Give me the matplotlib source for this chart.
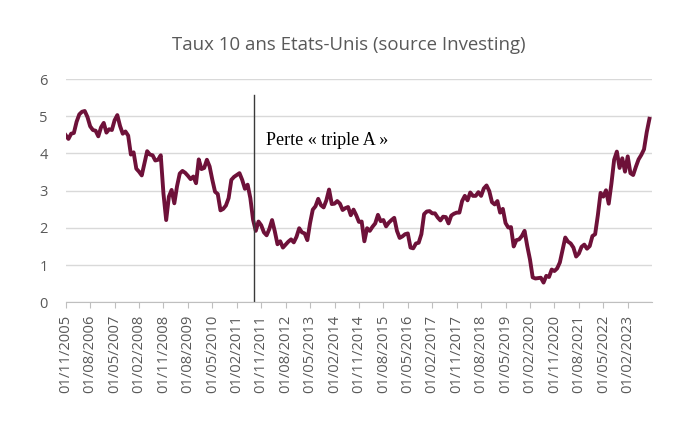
import numpy as np
import pandas as pd
import matplotlib
matplotlib.use('Agg')
import matplotlib.pyplot as plt

# monthly US 10 year yield (source Investing), one value per month from 11/2005
taux_2005 = [4.49, 4.39]
taux_2006 = [4.53, 4.55, 4.85, 5.05, 5.12, 5.14, 4.98, 4.73, 4.63, 4.61, 4.46, 4.70]
taux_2007 = [4.82, 4.56, 4.65, 4.63, 4.89, 5.03, 4.74, 4.53, 4.59, 4.48, 3.97, 4.03]
taux_2008 = [3.59, 3.51, 3.41, 3.73, 4.06, 3.97, 3.95, 3.81, 3.83, 3.95, 2.92, 2.21]
taux_2009 = [2.84, 3.02, 2.66, 3.12, 3.46, 3.53, 3.48, 3.40, 3.31, 3.38, 3.20, 3.84]
taux_2010 = [3.58, 3.61, 3.83, 3.65, 3.29, 2.97, 2.91, 2.47, 2.51, 2.60, 2.80, 3.29]
taux_2011 = [3.37, 3.42, 3.47, 3.29, 3.05, 3.16, 2.80, 2.22, 1.92, 2.17, 2.07, 1.88]
taux_2012 = [1.80, 1.97, 2.21, 1.91, 1.56, 1.64, 1.47, 1.55, 1.63, 1.69, 1.61, 1.76]
taux_2013 = [1.99, 1.88, 1.85, 1.67, 2.13, 2.49, 2.58, 2.78, 2.61, 2.55, 2.74, 3.03]
taux_2014 = [2.64, 2.65, 2.72, 2.65, 2.48, 2.53, 2.56, 2.34, 2.49, 2.34, 2.16, 2.17]
taux_2015 = [1.64, 1.99, 1.92, 2.03, 2.12, 2.35, 2.18, 2.21, 2.04, 2.14, 2.21, 2.27]
taux_2016 = [1.92, 1.73, 1.77, 1.83, 1.85, 1.47, 1.45, 1.58, 1.60, 1.83, 2.37, 2.44]
taux_2017 = [2.45, 2.39, 2.39, 2.28, 2.20, 2.30, 2.29, 2.12, 2.33, 2.38, 2.41, 2.41]
taux_2018 = [2.72, 2.86, 2.74, 2.95, 2.86, 2.86, 2.96, 2.86, 3.06, 3.14, 2.99, 2.69]
taux_2019 = [2.63, 2.72, 2.41, 2.51, 2.13, 2.01, 2.02, 1.50, 1.67, 1.69, 1.78, 1.92]
taux_2020 = [1.51, 1.15, 0.67, 0.64, 0.65, 0.66, 0.53, 0.71, 0.68, 0.88, 0.84, 0.91]
taux_2021 = [1.07, 1.40, 1.74, 1.63, 1.58, 1.47, 1.23, 1.31, 1.49, 1.55, 1.44, 1.51]
taux_2022 = [1.78, 1.83, 2.34, 2.94, 2.84, 3.01, 2.65, 3.19, 3.83, 4.05, 3.61, 3.87]
taux_2023 = [3.51, 3.92, 3.47, 3.42, 3.64, 3.84, 3.96, 4.11, 4.57, 4.93]

taux = (taux_2005 + taux_2006 + taux_2007 + taux_2008 + taux_2009 + taux_2010
        + taux_2011 + taux_2012 + taux_2013 + taux_2014 + taux_2015 + taux_2016
        + taux_2017 + taux_2018 + taux_2019 + taux_2020 + taux_2021 + taux_2022
        + taux_2023)
dates = pd.date_range('2005-11-01', periods=len(taux), freq='MS')

annotation = 'Perte « triple A »'
date_annotation = '2011-08-15'          # downgrade of the US rating
titre = 'Taux 10 ans Etats-Unis (source Investing)'

gris = '#595959'
plt.rcParams['font.family'] = ['Open Sans', 'DejaVu Sans']

fig = plt.figure(figsize=(6.94, 4.28), dpi=100)
ax = fig.add_axes([0.0947, 0.2937, 0.845, 0.5217])

# x axis is a month index from 11/2005, like an Excel date axis in months
mois = np.arange(len(taux))
ax.plot(mois, taux, color='#6E1139', linewidth=2.8, solid_joinstyle='round')

# vertical marker line for the loss of the AAA rating
d = pd.Timestamp(date_annotation)
pos = (d.year - 2005) * 12 + (d.month - 11) + (d.day - 1) / 30
ax.axvline(pos, ymin=0, ymax=0.928, color='#3a3a3a', linewidth=1)
ax.text(pos + 4.3, 4.35, annotation, family='Liberation Serif', fontsize=13,
        color='black', va='center', ha='left')

ax.set_xlim(0, len(taux))
ax.set_ylim(0, 6)
ax.set_yticks(range(0, 7))
ax.grid(axis='y', color='#D9D9D9', linewidth=1)
ax.set_axisbelow(True)

ticks = list(range(0, len(taux), 9))
ax.set_xticks(ticks)
ax.set_xticklabels([dates[i].strftime('%d/%m/%Y') for i in ticks], rotation=90)

for s in ['top', 'right', 'left']:
    ax.spines[s].set_visible(False)
ax.spines['bottom'].set_color('#BFBFBF')
ax.tick_params(axis='x', colors='#BFBFBF', length=4, labelcolor=gris, labelsize=10.6, pad=5)
ax.tick_params(axis='y', length=0, labelcolor=gris, labelsize=10.5, pad=13)

fig.text(0.502, 0.895, titre, ha='center', va='center', fontsize=13.4, color=gris)

fig.savefig('out.png', dpi=100)
